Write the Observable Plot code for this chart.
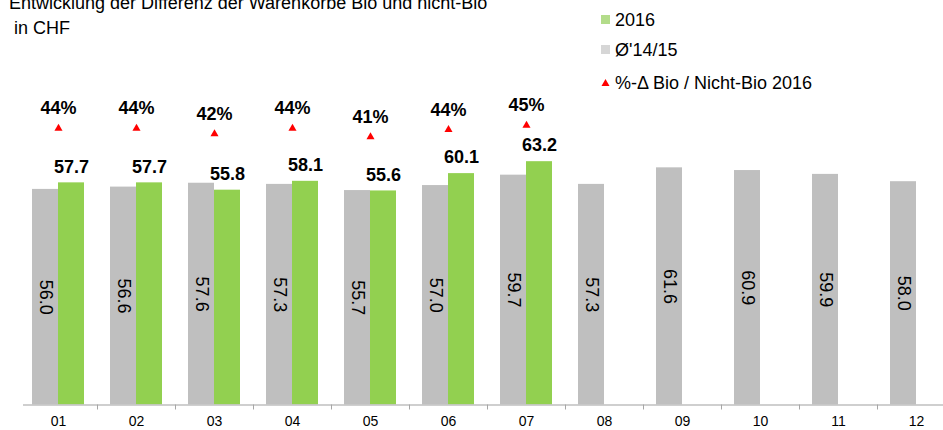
<!DOCTYPE html>
<html>
<head>
<meta charset="utf-8">
<script src="https://cdn.jsdelivr.net/npm/d3@7"></script>
<script src="https://cdn.jsdelivr.net/npm/@observablehq/plot@0.6"></script>
<style>
  html, body { margin: 0; padding: 0; background: #fff; }
  #wrap { position: relative; width: 943px; height: 430px; overflow: hidden; font-family: "Liberation Sans", Arial, sans-serif; color: #000; }
  #chart { position: absolute; left: 0; top: 0; }
  #title { position: absolute; left: 9px; top: -9px; font-size: 18px; line-height: 25px; white-space: nowrap; }
  .lg { position: absolute; left: 601px; font-size: 18px; line-height: 20px; white-space: nowrap; }
  .sw { display: inline-block; width: 9px; height: 9px; margin-right: 5px; vertical-align: 2px; }
</style>
</head>
<body>
<div id="wrap">
  <div id="chart"></div>
  <div id="title">Entwicklung der Differenz der Warenkörbe Bio und nicht-Bio<br>&nbsp;in CHF</div>
  <div class="lg" style="top:10px"><span class="sw" style="background:#b3dc8a"></span>2016</div>
  <div class="lg" style="top:40px"><span class="sw" style="background:#d6d6d6"></span>Ø'14/15</div>
  <div class="lg" style="top:73px"><svg width="9" height="9" style="margin-right:5px;vertical-align:2px"><polygon points="4.5,1 8.5,8 0.5,8" fill="#ff0000"/></svg>%-Δ Bio / Nicht-Bio 2016</div>
</div>
<script>
const months = ["01","02","03","04","05","06","07","08","09","10","11","12"];
const avg1415 = [56.0, 56.6, 57.6, 57.3, 55.7, 57.0, 59.7, 57.3, 61.6, 60.9, 59.9, 58.0];
const y2016 = [57.7, 57.7, 55.8, 58.1, 55.6, 60.1, 63.2];
const pctDiff2016 = [44.0, 44.0, 42.0, 44.0, 41.0, 43.5, 45.0];

const greyData = months.map((m, i) => ({month: m, value: avg1415[i]}));
const greenData = y2016.map((v, i) => ({month: months[i], value: v}));
const pctData = pctDiff2016.map((p, i) => ({month: months[i], pct: p}));
// secondary (percentage) axis mapped onto the primary value axis
const pctToY = p => 39.3 + 0.74 * p;

const chart = Plot.plot({
  width: 943,
  height: 430,
  marginLeft: 23,
  marginRight: 0,
  marginTop: 0,
  marginBottom: 0,
  style: {fontFamily: "'Liberation Sans', Arial, sans-serif", color: "#000", background: "transparent"},
  x: {type: "band", domain: months, range: [19, 955], padding: 0, axis: null},
  y: {domain: [0, 100], range: [404.5, 19.5], axis: null},
  marks: [
    Plot.barY(greyData, {x: "month", y: "value", fill: "#bfbfbf", insetLeft: 13, insetRight: 39}),
    Plot.barY(greenData, {x: "month", y: "value", fill: "#92d050", insetLeft: 39, insetRight: 13}),
    Plot.ruleY([0], {stroke: "#bfbfbf", strokeWidth: 1.5}),
    Plot.ruleX(months.slice(1), {x: d => d, y1: 0, y2: 0, dx: -39, insetBottom: -5, stroke: "#a6a6a6", strokeWidth: 1}),
    Plot.text(greyData, {x: "month", y: d => d.value / 2, text: d => d.value.toFixed(1), rotate: 90, dx: -13, fontSize: 18, fill: "#000"}),
    Plot.text(greenData, {x: "month", y: "value", text: d => d.value.toFixed(1), dx: 13, dy: -16, fontSize: 18, fontWeight: "bold", fill: "#000"}),
    Plot.dot(pctData, {x: "month", y: d => pctToY(d.pct), symbol: "triangle", r: 3, fill: "#ff0000", stroke: null}),
    Plot.text(pctData, {x: "month", y: d => pctToY(d.pct), text: d => Math.round(d.pct) + "%", dy: -20, fontSize: 18, fontWeight: "bold", fill: "#000"}),
    Plot.text(months, {x: d => d, y: 0, dy: 17, fontSize: 14, fill: "#000"})
  ]
});
document.getElementById("chart").appendChild(chart);
</script>
</body>
</html>
